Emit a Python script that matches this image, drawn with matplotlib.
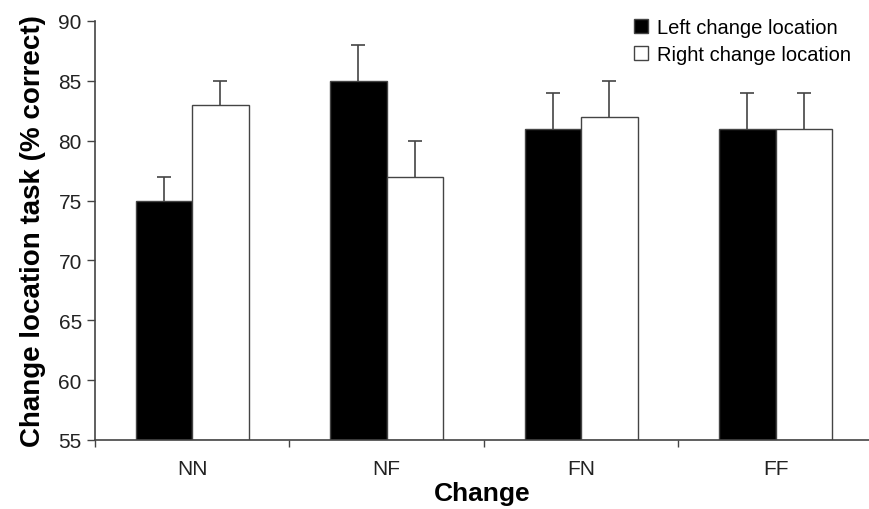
import matplotlib
matplotlib.use("Agg")
import matplotlib.pyplot as plt
import numpy as np
from matplotlib.lines import Line2D

# data
changes = ["NN", "NF", "FN", "FF"]
left_vals = [75, 85, 81, 81]
left_err = [2, 3, 3, 3]
right_vals = [83, 77, 82, 81]
right_err = [2, 3, 3, 3]
yticks = [55, 60, 65, 70, 75, 80, 85, 90]

plt.rcParams["font.family"] = ["Liberation Sans", "DejaVu Sans"]

fig = plt.figure(figsize=(8.69, 5.10), dpi=100)
ax = fig.add_axes([0.1093, 0.1353, 0.8907, 0.8216])

x = np.arange(len(changes))
w = 0.29
edge = "#444444"
ax.bar(x - w / 2, np.array(left_vals) - 55, w, bottom=55, color="black",
       edgecolor=edge, linewidth=1.0, zorder=2)
ax.bar(x + w / 2, np.array(right_vals) - 55, w, bottom=55, color="white",
       edgecolor=edge, linewidth=1.0, zorder=2)
for pos, vals, err in ((x - w / 2, left_vals, left_err), (x + w / 2, right_vals, right_err)):
    eb = ax.errorbar(pos, vals, yerr=[np.zeros(4), err], fmt="none", ecolor=edge,
                     elinewidth=1.2, capsize=5, capthick=1.2, zorder=1)
    eb[1][0].set_visible(False)  # no cap at the bar top

ax.set_xlim(-0.5, 3.48)
ax.set_ylim(55, 90)
ax.set_yticks(yticks)
ax.set_xticks(x)
ax.set_xticklabels(changes)
ax.set_xticks(np.arange(-0.5, 3.5, 1.0), minor=True)
ax.tick_params(axis="x", which="major", length=0, pad=14, labelsize=15, labelcolor="#222222")
ax.tick_params(axis="x", which="minor", length=5, width=1.0, color=edge, direction="out")
ax.tick_params(axis="y", length=6, width=1.0, color=edge, labelsize=15, labelcolor="#222222")
for s in ("top", "right"):
    ax.spines[s].set_visible(False)
for s in ("left", "bottom"):
    ax.spines[s].set_color(edge)
    ax.spines[s].set_linewidth(1.2)

ax.set_xlabel("Change", fontsize=19, fontweight="bold", labelpad=2)
ax.set_ylabel("Change location task (% correct)", fontsize=20, fontweight="bold", labelpad=9)

handles = [
    Line2D([], [], marker="s", linestyle="none", markersize=10, markerfacecolor="black",
           markeredgecolor=edge),
    Line2D([], [], marker="s", linestyle="none", markersize=10, markerfacecolor="white",
           markeredgecolor=edge),
]
ax.legend(handles, ["Left change location", "Right change location"], loc="upper right",
          bbox_to_anchor=(1.0, 1.05), frameon=False, fontsize=14.5, handlelength=0.8,
          handletextpad=0.4, labelspacing=0.4)

fig.savefig("out.png", dpi=100)
